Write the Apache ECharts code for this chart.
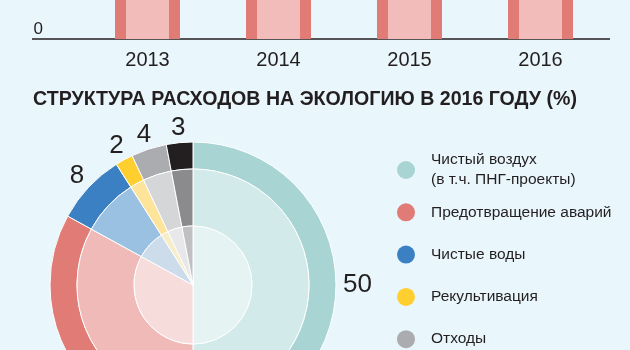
<!DOCTYPE html>
<html><head><meta charset="utf-8">
<script src="https://cdn.jsdelivr.net/npm/echarts@6/dist/echarts.min.js"></script>
<style>html,body{margin:0;padding:0;background:#e9f6fc}#c{width:630px;height:350px}</style>
</head><body><div id="c"></div>
<script>
// Top bar chart (only its lower part is visible; bar tops are cropped off)
const years = ['2013', '2014', '2015', '2016'];
const barValues = [60, 62, 58, 64];   // tops not visible in the crop: estimated
const yTickValues = [0, 100];

// Pie: structure of ecology spending in 2016 (%)
const categories = [
  'Чистый воздух\n(в т.ч. ПНГ-проекты)',
  'Предотвращение аварий',
  'Чистые воды',
  'Рекультивация',
  'Отходы',
  'Прочие'
];
const shares = [50, 33, 8, 2, 4, 3];

const outerColors  = ['#a8d5d4', '#e07b76', '#3b80c3', '#fecf2e', '#abacaf', '#231f20'];
const middleColors = ['#d3eaea', '#f0bab8', '#9ac0e2', '#fde49a', '#d5d6d8', '#8b8a8c'];
const innerColors  = ['#e6f3f3', '#f7dcdc', '#ccdcea', '#f7edc6', '#e8e8ea', '#c0c0c2'];

const titleText = 'СТРУКТУРА РАСХОДОВ НА ЭКОЛОГИЮ В 2016 ГОДУ (%)';

const ink = '#231f20';
const font = 'Liberation Sans';
const ring = (colors) => categories.map((n, i) => ({ name: n, value: shares[i], itemStyle: { color: colors[i] } }));

// unit direction of each slice's middle (clockwise from 12 o'clock)
const total = shares.reduce((a, b) => a + b, 0);
let acc = 0;
const midDir = shares.map(v => {
  const a = (acc + v / 2) / total * 2 * Math.PI;
  acc += v;
  return [Math.sin(a), -Math.cos(a)];
});
// Value labels keep a constant gap between the pie and their near edge:
// push each centred label outward by its half-extent along the radius.
const GLYPH_HALF_HEIGHT = 5;
const labelPush = (p) => {
  const d = midDir[p.dataIndex];
  const e = Math.abs(d[0]) * (p.labelRect.width / 2 - 2) + Math.abs(d[1]) * GLYPH_HALF_HEIGHT;
  return { dx: e * d[0], dy: e * d[1] };
};

const legendCenterTop = 170, legendStep = 42.3;

const chart = echarts.init(document.getElementById('c'));
chart.setOption({
  backgroundColor: '#e9f6fc',
  animation: false,
  title: {
    text: titleText, left: 33, top: 90, padding: 0,
    textStyle: { fontFamily: font, fontWeight: 'bold', fontSize: 19.6, color: ink }
  },
  grid: { left: 82, right: 24, top: -300, bottom: 311, outerBoundsMode: 'none', containLabel: false },
  xAxis: [0, 1].map(k => ({
    type: 'category', data: years, show: k === 0,
    axisLine: { show: false }, axisTick: { show: false },
    axisLabel: { margin: 11, fontFamily: font, fontSize: 20, color: ink }
  })),
  yAxis: {
    type: 'value', min: yTickValues[0], max: yTickValues[1], interval: 100,
    splitLine: { show: false }, axisLine: { show: false }, axisTick: { show: false },
    axisLabel: { align: 'right', verticalAlign: 'bottom', margin: 39, padding: [0, 0, 1, 0], fontFamily: font, fontSize: 17, color: ink }
  },
  legend: categories.map((name, i) => ({
    orient: 'vertical', left: 397,
    top: legendCenterTop + i * legendStep - (name.indexOf('\n') >= 0 ? 20 : 10),
    padding: 0, itemWidth: 18, itemHeight: 18, icon: 'circle', selectedMode: false,
    data: [name],
    itemStyle: { borderWidth: 0 },
    textStyle: { fontFamily: font, fontSize: 15.5, lineHeight: 20, color: ink, padding: [0, 0, 0, 11] }
  })),
  graphic: [{
    type: 'line', silent: true,
    shape: { x1: 32, y1: 39, x2: 610, y2: 39 },
    style: { stroke: ink, lineWidth: 1.3 }
  }],
  series: [
    { type: 'bar', xAxisIndex: 0, data: barValues, barWidth: 65, itemStyle: { color: '#e07b76' }, silent: true },
    { type: 'bar', xAxisIndex: 1, data: barValues, barWidth: 43, itemStyle: { color: '#f1bcba' }, silent: true },
    {
      type: 'pie', center: [193, 285], radius: [116, 143], startAngle: 90, clockwise: true,
      data: ring(outerColors), label: { show: false }, labelLine: { show: false },
      itemStyle: { borderColor: '#ffffff', borderWidth: 1 }, silent: true
    },
    {
      type: 'pie', center: [193, 285], radius: [59, 116], startAngle: 90, clockwise: true,
      data: ring(middleColors), label: { show: false }, labelLine: { show: false },
      itemStyle: { borderColor: '#ffffff', borderWidth: 1 }, silent: true
    },
    {
      type: 'pie', center: [193, 285], radius: [0, 59], startAngle: 90, clockwise: true,
      data: ring(innerColors), label: { show: false }, labelLine: { show: false },
      itemStyle: { borderColor: '#ffffff', borderWidth: 1 }, silent: true
    },
    {
      type: 'pie', center: [193, 285], radius: [144, 154], startAngle: 90, clockwise: true,
      data: categories.map((n, i) => ({ name: n, value: shares[i] })),
      itemStyle: { color: 'rgba(0,0,0,0)' },
      label: { show: true, position: 'inside', formatter: '{c}', fontFamily: font, fontSize: 26, color: ink },
      labelLayout: labelPush,
      labelLine: { show: false }, silent: true
    }
  ]
});
</script>
</body></html>
